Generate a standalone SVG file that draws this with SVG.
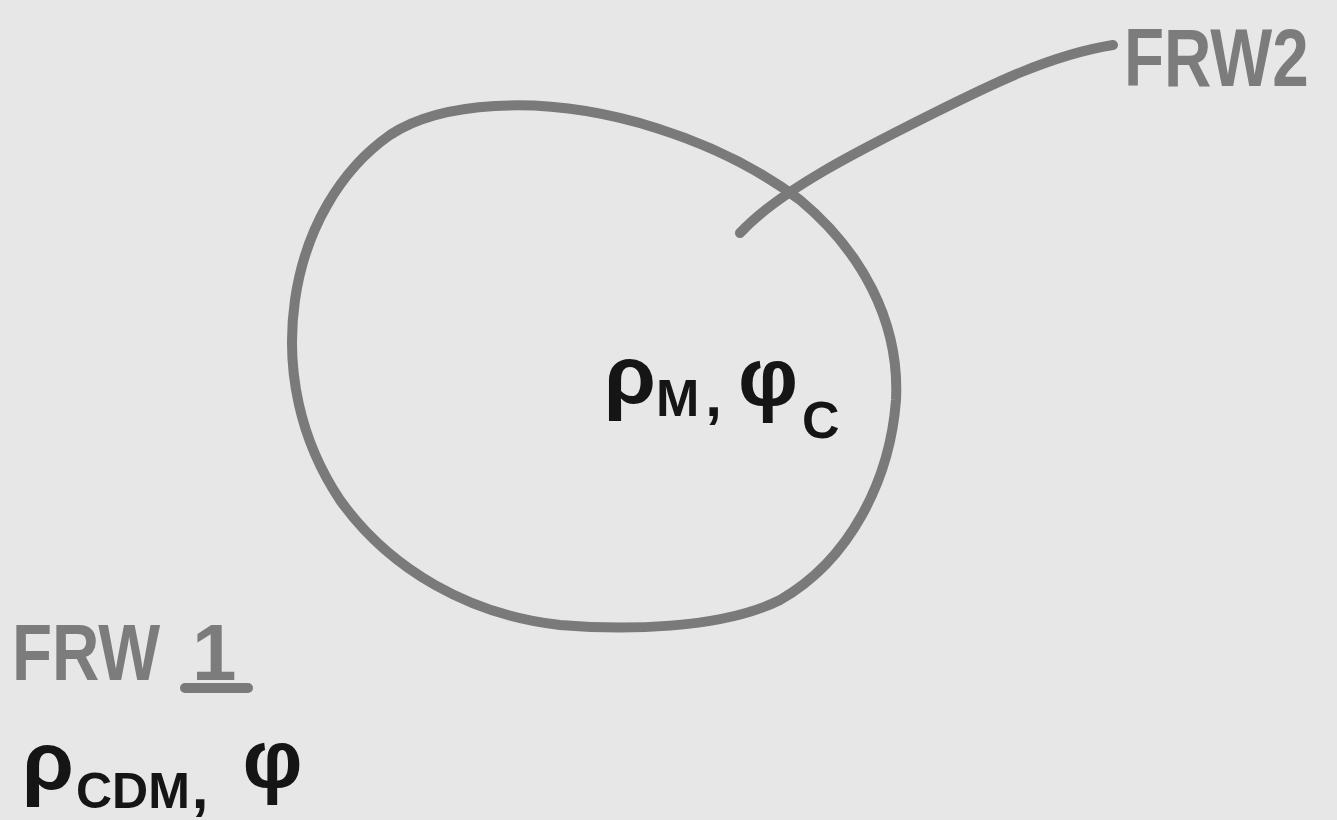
<svg xmlns="http://www.w3.org/2000/svg" width="1337" height="820" viewBox="0 0 1337 820">
<style>
.stroke{fill:none;stroke:#7a7a7a;stroke-width:10;stroke-linecap:round;stroke-linejoin:round}
.gray{font-family:"Liberation Sans",Arial,sans-serif;font-weight:bold;fill:#7c7c7c}
.ink{font-family:"Liberation Sans",Arial,sans-serif;font-weight:bold;fill:#151515}
</style>
<rect width="1337" height="820" fill="#e7e7e7"/>
<g id="region">
<path class="stroke" d="M495,106 C600,100 720,140 800,200 C860,250 900,320 896,400 C890,480 850,560 780,600 C720,630 620,630 560,625 C470,615 390,570 340,500 C300,440 285,370 295,300 C305,230 340,170 390,135 C420,115 460,108 495,106 Z"/>
</g>
<g id="connectors">
<path class="stroke" d="M740,233 C780,190 860,150 930,115 C990,85 1050,55 1113,45"/>
</g>
<g id="frw2">
<text class="gray" transform="translate(1124,86) scale(0.8,1)" x="0" y="0" font-size="82">FRW2</text>
</g>
<g id="inner">
<text class="ink" x="604" y="404" font-size="84">ρ<tspan font-size="52" dy="12">M</tspan><tspan font-size="60" dx="6">,</tspan><tspan font-size="84" dx="16" dy="-10">φ</tspan><tspan font-size="52" dx="4" dy="32">C</tspan></text>
</g>
<g id="frw1">
<text class="gray" transform="translate(12,680) scale(0.82,1)" x="0" y="0" font-size="80">FRW</text>
<text class="gray" x="192" y="680" font-size="80">1</text>
<line x1="185" y1="688" x2="248" y2="688" stroke="#7a7a7a" stroke-width="10" stroke-linecap="round"/>
</g>
<g id="outer">
<text class="ink" x="22" y="790" font-size="84">ρ<tspan font-size="50" dx="2" dy="18">CDM</tspan><tspan font-size="60" dx="2">,</tspan><tspan font-size="84" dx="34" dy="-20">φ</tspan></text>
</g>
</svg>
